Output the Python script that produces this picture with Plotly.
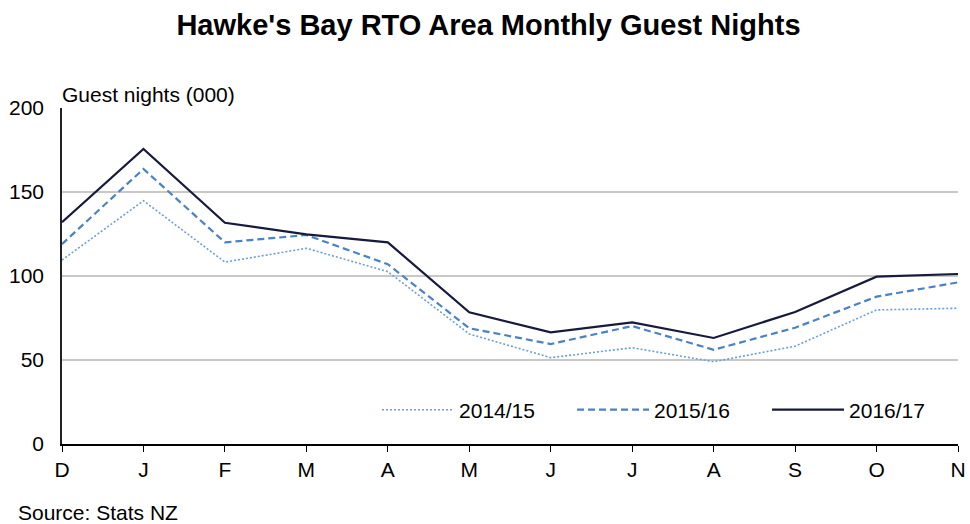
import plotly.graph_objects as go

months = ["D", "J", "F", "M", "A", "M", "J", "J", "A", "S", "O", "N"]
series_names = ["2014/15", "2015/16", "2016/17"]
v_2014_15 = [109.5, 144.8, 108.3, 116.5, 102.6, 65.5, 51.4, 57.3, 49.0, 58.2, 79.8, 80.8]
v_2015_16 = [119.0, 163.7, 120.0, 124.4, 107.0, 68.9, 59.5, 70.2, 56.1, 69.2, 87.7, 96.2]
v_2016_17 = [132.0, 175.6, 131.7, 124.8, 120.0, 78.4, 66.5, 72.4, 63.1, 78.6, 99.6, 101.2]
y_ticks = [0, 50, 100, 150, 200]

x_idx = list(range(len(months)))
FONT = "Liberation Sans, Arial, sans-serif"

fig = go.Figure()
fig.add_trace(go.Scatter(x=x_idx, y=v_2014_15, name=series_names[0], mode="lines",
                         line=dict(color="#6a9fd8", width=1.6, dash="2px,2px")))
fig.add_trace(go.Scatter(x=x_idx, y=v_2015_16, name=series_names[1], mode="lines",
                         line=dict(color="#4a83c4", width=2.2, dash="7px,4px")))
fig.add_trace(go.Scatter(x=x_idx, y=v_2016_17, name=series_names[2], mode="lines",
                         line=dict(color="#161a3c", width=2.2)))

fig.update_layout(
    width=970, height=524,
    margin=dict(l=62, r=12, t=108, b=80, autoexpand=False),
    paper_bgcolor="white", plot_bgcolor="white",
    font=dict(family=FONT, size=21, color="black"),
    title=dict(text="<b>Hawke's Bay RTO Area Monthly Guest Nights</b>",
               x=0.5036, xanchor="center", y=0.952, yanchor="middle",
               font=dict(family=FONT, size=29, color="black")),
    showlegend=True,
    legend=dict(orientation="h", x=0.3516, xanchor="left", y=0.101, yanchor="middle",
                bgcolor="rgba(0,0,0,0)", borderwidth=0,
                itemwidth=72, entrywidth=108, entrywidthmode="pixels",
                font=dict(family=FONT, size=21, color="black"),
                traceorder="normal"),
    xaxis=dict(range=[0, 11], tickmode="array", tickvals=x_idx, ticktext=months,
               showgrid=False, zeroline=False, showline=True, linecolor="black", linewidth=2,
               ticks="outside", ticklen=6, tickcolor="black", tickwidth=1,
               tickfont=dict(family=FONT, size=21, color="black")),
    yaxis=dict(range=[0, 200], tickmode="array", tickvals=y_ticks,
               showgrid=True, gridcolor="#c8c8c8", gridwidth=2,
               zeroline=False, showline=True, linecolor="#222222", linewidth=1.5,
               ticks="", ticklabelstandoff=12,
               tickfont=dict(family=FONT, size=21, color="black")),
)

fig.add_annotation(text="Guest nights (000)", xref="paper", yref="paper",
                   x=0, y=1.0387, xanchor="left", yanchor="middle", showarrow=False,
                   xshift=-2, font=dict(family=FONT, size=21, color="black"))
fig.add_annotation(text="Source: Stats NZ", xref="paper", yref="paper",
                   x=-0.0491, y=-0.2024, xanchor="left", yanchor="middle", showarrow=False,
                   xshift=-2, font=dict(family=FONT, size=21, color="black"))

fig.write_html("out.html", config={"displayModeBar": False},
               post_script="document.body.style.margin='0';")
